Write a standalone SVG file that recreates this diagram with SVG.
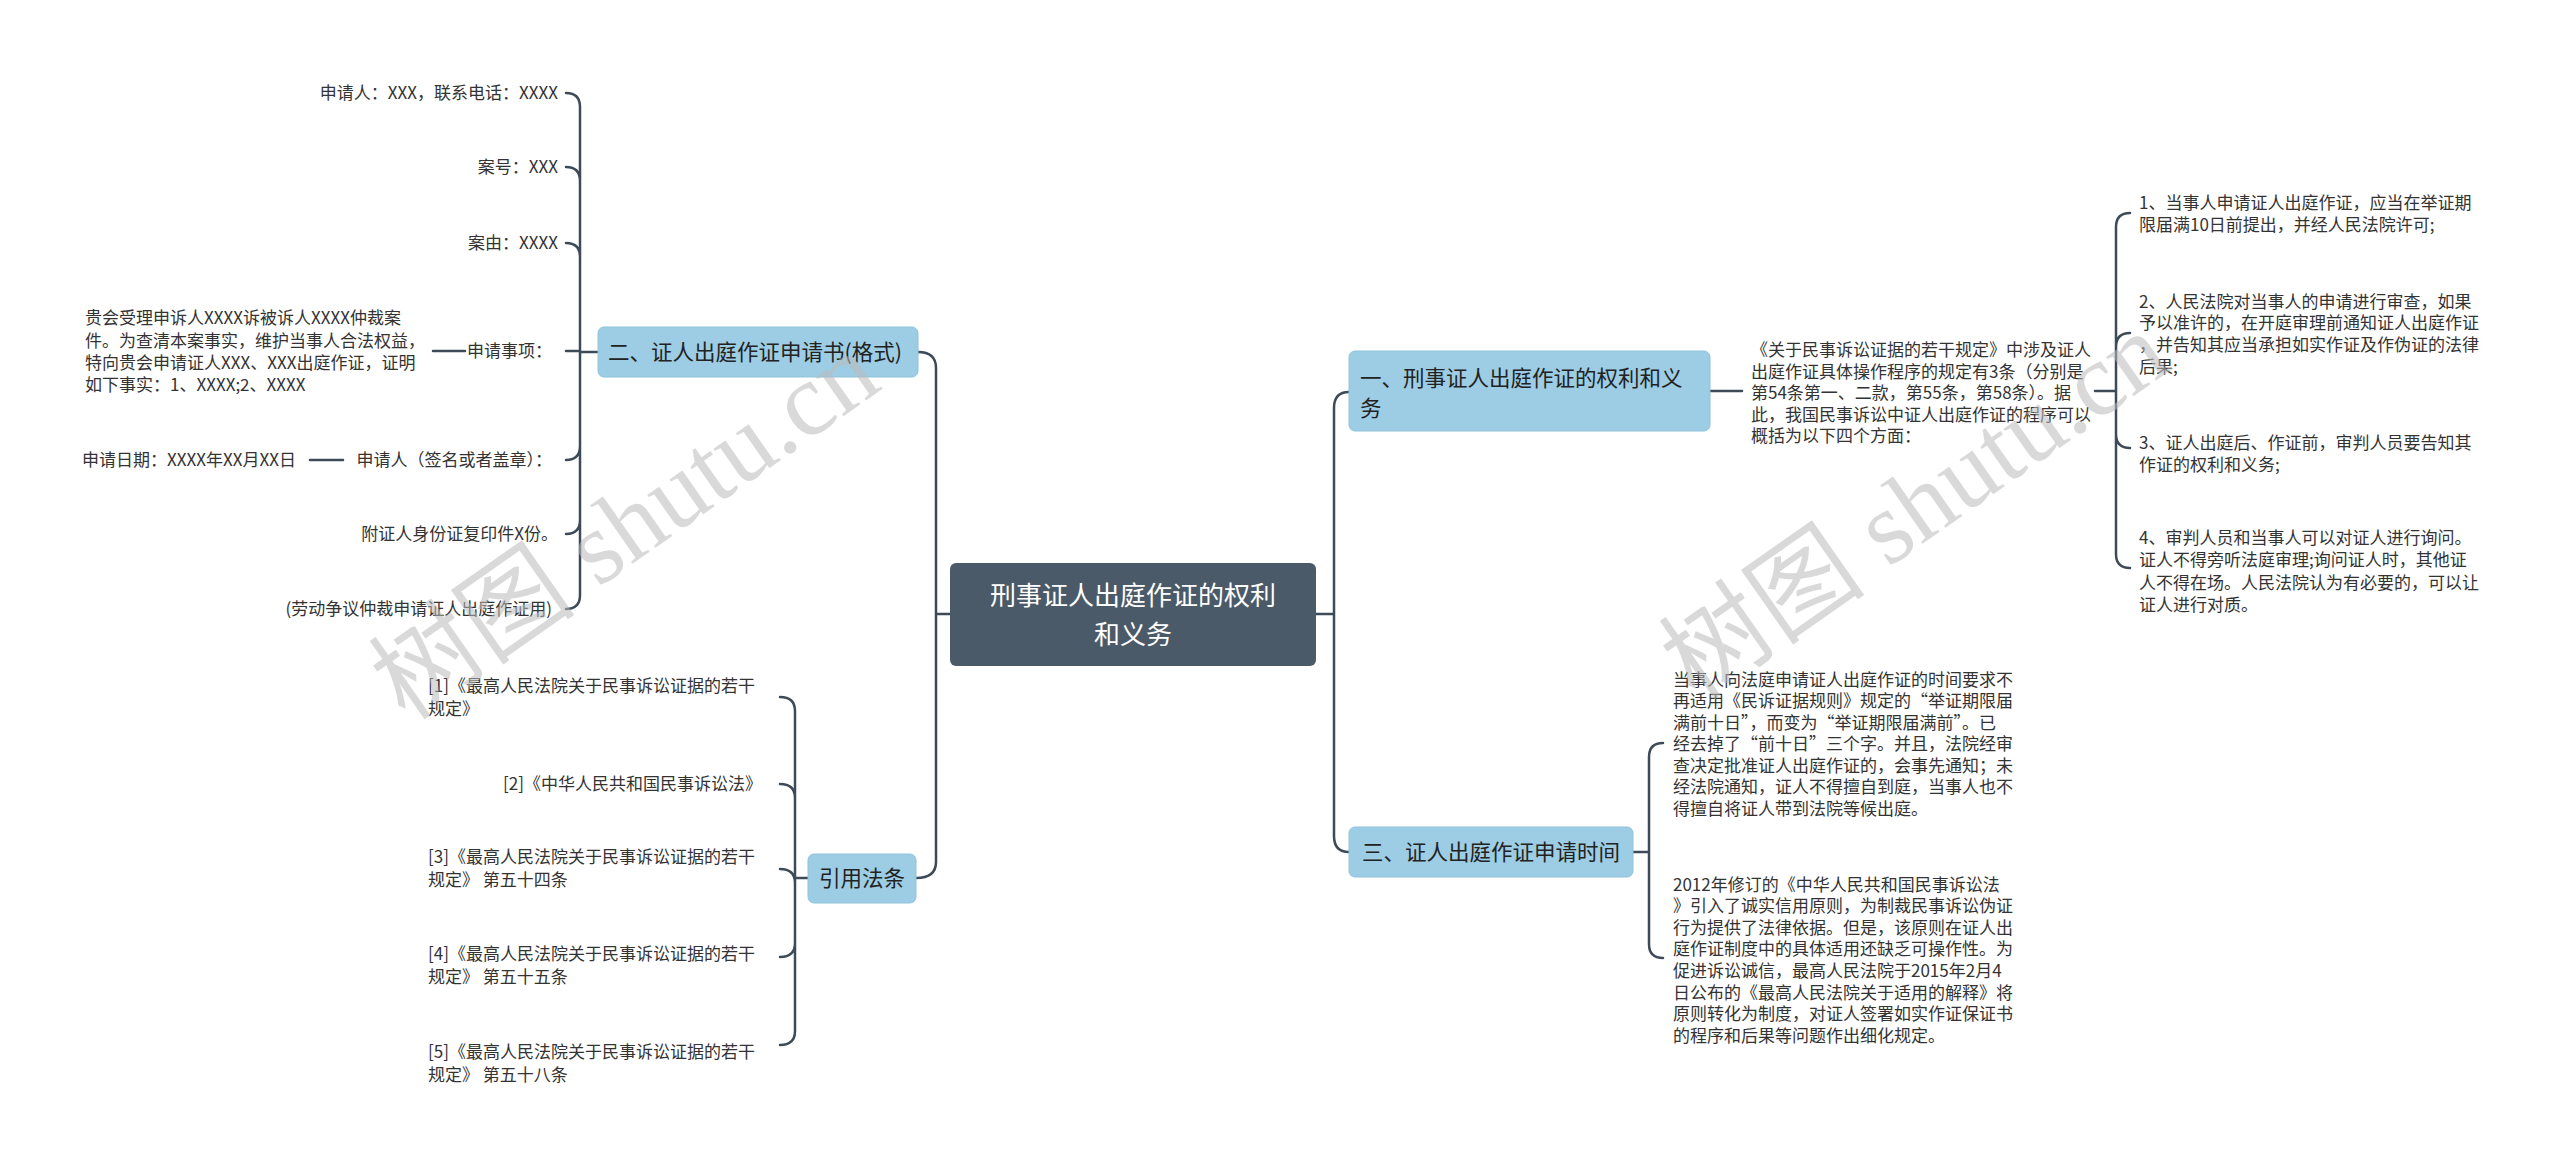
<svg xmlns="http://www.w3.org/2000/svg" width="2560" height="1165" viewBox="0 0 2560 1165">
<style>
text{font-family:"Noto Sans CJK SC","Liberation Sans",sans-serif;fill:#333}
.t{font-size:17px}
.r{text-anchor:end}
.n{font-size:21.5px;fill:#222}
.b{fill:#9ccde4;stroke:#8fc3dc;stroke-width:1}
.c{fill:none;stroke:#3d4a57;stroke-width:2.5;stroke-linecap:round}
.w{font-family:"Liberation Serif","Noto Sans CJK SC",serif;font-size:104px;fill:#bbb;opacity:.55}
</style>
<rect width="2560" height="1165" fill="#fff"/>
<g id="connectors" class="c">
<path d="M950,614H936M918,352Q936,352 936,368V862Q936,878 916,878"/>
<path d="M1316,614H1334M1349,392Q1334,392 1334,408V836Q1334,852 1349,852"/>
<path d="M598,352H580M566,93Q580,93 580,107V595Q580,609 566,609M566,167Q580,167 580,181M566,243Q580,243 580,257M566,351H580M566,460Q580,460 580,446M566,534Q580,534 580,520M433,351H465M310,460H343"/>
<path d="M808,878H795M780,697Q795,697 795,711V1031Q795,1045 780,1045M780,784Q795,784 795,798M780,869Q795,869 795,883M780,957Q795,957 795,943"/>
<path d="M1710,391H1742M2095,391H2116M2130,213Q2116,213 2116,227V554Q2116,568 2130,568M2130,333Q2116,333 2116,347M2130,448Q2116,448 2116,434"/>
<path d="M1633,852H1649M1663,743Q1649,743 1649,757V944Q1649,958 1663,958"/>
</g>
<g id="center"><rect x="950" y="563" width="366" height="103" rx="6" fill="#4b5a68"/>
<text x="1133" y="605" text-anchor="middle" style="font-size:26px;fill:#fff">刑事证人出庭作证的权利</text>
<text x="1133" y="644" text-anchor="middle" style="font-size:26px;fill:#fff">和义务</text></g>
<g id="n2"><rect class="b" x="598" y="327" width="320" height="50" rx="6"/><text class="n" x="608" y="360">二、证人出庭作证申请书(格式)</text></g>
<g id="n2leaves">
<text class="t r" x="558" y="99">申请人：XXX，联系电话：XXXX</text>
<text class="t r" x="558" y="173">案号：XXX</text>
<text class="t r" x="558" y="249">案由：XXXX</text>
<text class="t r" x="552" y="357">申请事项：</text>
<text class="t" x="85" y="324">贵会受理申诉人XXXX诉被诉人XXXX仲裁案</text>
<text class="t" x="85" y="347">件。为查清本案事实，维护当事人合法权益，</text>
<text class="t" x="85" y="369">特向贵会申请证人XXX、XXX出庭作证，证明</text>
<text class="t" x="85" y="391">如下事实：1、XXXX;2、XXXX</text>
<text class="t r" x="552" y="466">申请人（签名或者盖章）：</text>
<text class="t" x="82" y="466">申请日期：XXXX年XX月XX日</text>
<text class="t r" x="558" y="540">附证人身份证复印件X份。</text>
<text class="t r" x="552" y="615">(劳动争议仲裁申请证人出庭作证用)</text>
</g>
<g id="n4"><rect class="b" x="808" y="854" width="108" height="49" rx="6"/><text class="n" x="862" y="886" text-anchor="middle">引用法条</text></g>
<g id="n4leaves">
<text class="t" x="428" y="692">[1]《最高人民法院关于民事诉讼证据的若干</text><text class="t" x="428" y="715">规定》</text>
<text class="t r" x="762" y="790">[2]《中华人民共和国民事诉讼法》</text>
<text class="t" x="428" y="863">[3]《最高人民法院关于民事诉讼证据的若干</text><text class="t" x="428" y="886">规定》 第五十四条</text>
<text class="t" x="428" y="960">[4]《最高人民法院关于民事诉讼证据的若干</text><text class="t" x="428" y="983">规定》 第五十五条</text>
<text class="t" x="428" y="1058">[5]《最高人民法院关于民事诉讼证据的若干</text><text class="t" x="428" y="1081">规定》 第五十八条</text>
</g>
<g id="n1"><rect class="b" x="1349" y="351" width="361" height="80" rx="6"/>
<text class="n" x="1360" y="386">一、刑事证人出庭作证的权利和义</text><text class="n" x="1360" y="416">务</text></g>
<g id="n1para">
<text class="t" x="1751" y="356">《关于民事诉讼证据的若干规定》中涉及证人</text>
<text class="t" x="1751" y="378">出庭作证具体操作程序的规定有3条（分别是</text>
<text class="t" x="1751" y="399">第54条第一、二款，第55条，第58条）。据</text>
<text class="t" x="1751" y="421">此，我国民事诉讼中证人出庭作证的程序可以</text>
<text class="t" x="1751" y="442">概括为以下四个方面：</text>
</g>
<g id="n1leaves">
<text class="t" x="2139" y="209">1、当事人申请证人出庭作证，应当在举证期</text><text class="t" x="2139" y="231">限届满10日前提出，并经人民法院许可;</text>
<text class="t" x="2139" y="308">2、人民法院对当事人的申请进行审查，如果</text><text class="t" x="2139" y="329">予以准许的，在开庭审理前通知证人出庭作证</text><text class="t" x="2139" y="351">，并告知其应当承担如实作证及作伪证的法律</text><text class="t" x="2139" y="373">后果;</text>
<text class="t" x="2139" y="449">3、证人出庭后、作证前，审判人员要告知其</text><text class="t" x="2139" y="471">作证的权利和义务;</text>
<text class="t" x="2139" y="544">4、审判人员和当事人可以对证人进行询问。</text><text class="t" x="2139" y="566">证人不得旁听法庭审理;询问证人时，其他证</text><text class="t" x="2139" y="589">人不得在场。人民法院认为有必要的，可以让</text><text class="t" x="2139" y="611">证人进行对质。</text>
</g>
<g id="n3"><rect class="b" x="1349" y="827" width="284" height="50" rx="6"/><text class="n" x="1362" y="860">三、证人出庭作证申请时间</text></g>
<g id="n3leaves">
<text class="t" x="1673" y="686">当事人向法庭申请证人出庭作证的时间要求不</text>
<text class="t" x="1673" y="707">再适用《民诉证据规则》规定的“举证期限届</text>
<text class="t" x="1673" y="729">满前十日”，而变为“举证期限届满前”。已</text>
<text class="t" x="1673" y="750">经去掉了“前十日”三个字。并且，法院经审</text>
<text class="t" x="1673" y="772">查决定批准证人出庭作证的，会事先通知；未</text>
<text class="t" x="1673" y="793">经法院通知，证人不得擅自到庭，当事人也不</text>
<text class="t" x="1673" y="815">得擅自将证人带到法院等候出庭。</text>
<text class="t" x="1673" y="891">2012年修订的《中华人民共和国民事诉讼法</text>
<text class="t" x="1673" y="912">》引入了诚实信用原则，为制裁民事诉讼伪证</text>
<text class="t" x="1673" y="934">行为提供了法律依据。但是，该原则在证人出</text>
<text class="t" x="1673" y="955">庭作证制度中的具体适用还缺乏可操作性。为</text>
<text class="t" x="1673" y="977">促进诉讼诚信，最高人民法院于2015年2月4</text>
<text class="t" x="1673" y="999">日公布的《最高人民法院关于适用的解释》将</text>
<text class="t" x="1673" y="1020">原则转化为制度，对证人签署如实作证保证书</text>
<text class="t" x="1673" y="1042">的程序和后果等问题作出细化规定。</text>
</g>
<g id="watermarks">
<text class="w" transform="translate(645,555) rotate(-35)" text-anchor="middle">树图 shutu.cn</text>
<text class="w" transform="translate(1935,535) rotate(-35)" text-anchor="middle">树图 shutu.cn</text>
</g>
</svg>
